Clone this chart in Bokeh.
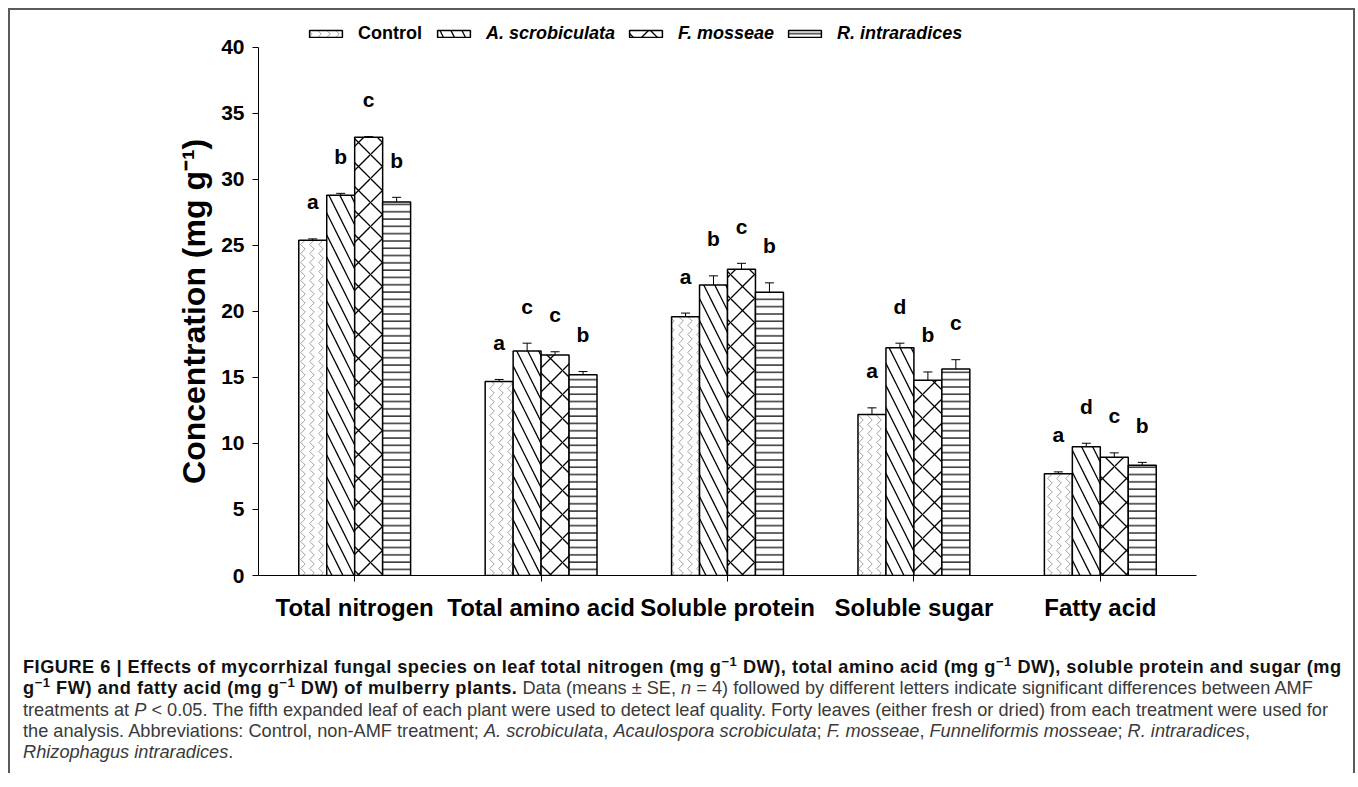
from bokeh.plotting import figure
from bokeh.models import (FactorRange, Range1d, Whisker, TeeHead, ColumnDataSource,
                          Legend, LegendItem, Div, FixedTicker)
from bokeh.transform import dodge
from bokeh.layouts import column
from bokeh.core.properties import value
from bokeh.embed import file_html
from bokeh.resources import INLINE

# ---------------- data ----------------
categories = ["Total nitrogen", "Total amino acid", "Soluble protein", "Soluble sugar", "Fatty acid"]
treatments = ["Control", "A. scrobiculata", "F. mosseae", "R. intraradices"]

control = [25.4, 14.7, 19.6, 12.2, 7.7]
control_se = [0.1, 0.15, 0.28, 0.5, 0.15]
a_scrob = [28.8, 17.0, 22.0, 17.25, 9.75]
a_scrob_se = [0.15, 0.6, 0.7, 0.35, 0.27]
f_moss = [33.2, 16.7, 23.2, 14.8, 8.96]
f_moss_se = [0.05, 0.25, 0.45, 0.62, 0.33]
r_intra = [28.3, 15.2, 21.45, 15.65, 8.35]
r_intra_se = [0.35, 0.25, 0.72, 0.7, 0.22]

control_letters = ["a", "a", "a", "a", "a"]
a_scrob_letters = ["b", "c", "b", "d", "d"]
f_moss_letters = ["c", "c", "c", "b", "c"]
r_intra_letters = ["b", "b", "b", "c", "b"]

y_ticks = [0, 5, 10, 15, 20, 25, 30, 35, 40]

# ---------------- figure ----------------
FONT = "Liberation Sans"
W = 1343
p = figure(x_range=FactorRange(*categories, range_padding=0.0064),
           y_range=Range1d(0, 42.045),
           width=W, height=629,
           min_border_left=248, min_border_right=W - 248 - 938,
           min_border_top=10, min_border_bottom=64,
           output_backend="svg", toolbar_location=None)

p.outline_line_color = None
p.grid.grid_line_color = None
p.background_fill_color = "white"
p.border_fill_color = "white"

series = [
    (control, control_se, control_letters, -0.225, dict(hatch_pattern="vertical_wave", hatch_scale=9, hatch_weight=0.7, hatch_color="#777777")),
    (a_scrob, a_scrob_se, a_scrob_letters, -0.075, dict(hatch_pattern="left_diagonal_line", hatch_scale=22, hatch_weight=1.3, hatch_color="black")),
    (f_moss, f_moss_se, f_moss_letters, 0.075, dict(hatch_pattern="diagonal_cross", hatch_scale=24, hatch_weight=1.3, hatch_color="black")),
    (r_intra, r_intra_se, r_intra_letters, 0.225, dict(hatch_pattern="horizontal_line", hatch_scale=7.3, hatch_weight=1.2, hatch_color="black")),
]

renderers = []
for vals, se, letters, off, hatch in series:
    src = ColumnDataSource(dict(
        cat=categories, val=vals,
        upper=[v + s for v, s in zip(vals, se)],
        ly=[v + s + 2.8 for v, s in zip(vals, se)],
        letter=letters))
    r = p.vbar(x=dodge("cat", off, range=p.x_range), top="val", bottom=0, width=0.15,
               source=src, fill_color="white", line_color="black", line_width=1.5, **hatch)
    renderers.append(r)
    wh = Whisker(base=dodge("cat", off, range=p.x_range), lower="val", upper="upper", source=src,
                 dimension="height", line_color="black", line_width=1,
                 upper_head=TeeHead(size=9, line_color="black", line_width=1), lower_head=None)
    p.add_layout(wh)
    p.text(x=dodge("cat", off, range=p.x_range), y="ly", text="letter", source=src,
           text_align="center", text_baseline="middle", text_font=value(FONT),
           text_font_style="bold", text_font_size="21px", text_color="black")

# ---------------- axes ----------------
p.yaxis.ticker = FixedTicker(ticks=y_ticks)
p.yaxis.bounds = (0, 40)
p.yaxis.minor_tick_line_color = None
p.yaxis.major_tick_in = 0
p.yaxis.major_tick_out = 6
p.yaxis.major_label_text_font = FONT
p.yaxis.major_label_text_font_style = "bold"
p.yaxis.major_label_text_font_size = "21px"
p.yaxis.major_label_text_color = "black"
p.yaxis.major_label_standoff = 8
# trailing no-break spaces keep the label centred on the 0-40 part of the axis
p.yaxis.axis_label = "Concentration (mg g\u207b\u00b9)\u00a0\u00a0\u00a0"
p.yaxis.axis_label_text_font = FONT
p.yaxis.axis_label_text_font_style = "bold"
p.yaxis.axis_label_text_font_size = "32px"
p.yaxis.axis_label_text_color = "black"
p.yaxis.axis_label_standoff = 6

p.xaxis.major_tick_in = 0
p.xaxis.major_tick_out = 6
p.xaxis.major_label_text_font = FONT
p.xaxis.major_label_text_font_style = "bold"
p.xaxis.major_label_text_font_size = "24px"
p.xaxis.major_label_text_color = "black"
p.xaxis.major_label_standoff = 12
p.axis.axis_line_color = "black"
p.axis.major_tick_line_color = "black"

# ---------------- legends ----------------
leg_common = dict(orientation="horizontal", padding=0, margin=0, spacing=10,
                  glyph_width=41, glyph_height=9, label_standoff=12,
                  label_text_font=FONT, label_text_font_size="18px",
                  label_text_color="black", border_line_color=None,
                  background_fill_alpha=0)
leg1 = Legend(items=[LegendItem(label=treatments[0], renderers=[renderers[0]])],
              location=(47, 531), label_text_font_style="bold", **leg_common)
leg2 = Legend(items=[LegendItem(label=t, renderers=[r]) for t, r in zip(treatments[1:], renderers[1:])],
              location=(175, 531), label_text_font_style="bold italic", **leg_common)
p.add_layout(leg1)
p.add_layout(leg2)

# ---------------- caption ----------------
sup = '<span style="font-size:0.72em;vertical-align:super;line-height:0">\u22121</span>'
B = '<b style="color:#111;letter-spacing:0.5px">'
lines = [
    B + 'FIGURE 6 | Effects of mycorrhizal fungal species on leaf total nitrogen (mg g' + sup +
    ' DW), total amino acid (mg g' + sup + ' DW), soluble protein and sugar (mg</b>',
    B + 'g' + sup + ' FW) and fatty acid (mg g' + sup + ' DW) of mulberry plants.</b> Data (means \u00b1 SE, <i>n</i> = 4) '
    'followed by different letters indicate significant differences between AMF',
    'treatments at <i>P</i> &lt; 0.05. The fifth expanded leaf of each plant were used to detect leaf quality. '
    'Forty leaves (either fresh or dried) from each treatment were used for',
    'the analysis. Abbreviations: Control, non-AMF treatment; <i>A. scrobiculata</i>, <i>Acaulospora scrobiculata</i>; '
    '<i>F. mosseae</i>, <i>Funneliformis mosseae</i>; <i>R. intraradices</i>,',
    '<i>Rhizophagus intraradices</i>.',
]
caption_html = (
    '<div style="font-family:\'Liberation Sans\',Arial,sans-serif;font-size:18.2px;line-height:21.3px;'
    'color:#3a3a3a;white-space:nowrap;padding:13px 0 0 8px;width:1500px;">'
    + ''.join('<div style="white-space:nowrap">' + ln + '</div>' for ln in lines) +
    '</div>')
caption = Div(text=caption_html, width=W, height=124, styles={"overflow": "visible", "white-space": "nowrap"})

layout = column(p, caption, margin=(8, 0, 0, 8),
                styles={"box-sizing": "content-box", "width": "%dpx" % W,
                        "border-top": "2px solid #5a5a5a",
                        "border-left": "2px solid #5a5a5a",
                        "border-right": "2px solid #5a5a5a"})

open("out.html", "w").write(file_html(layout, INLINE))
